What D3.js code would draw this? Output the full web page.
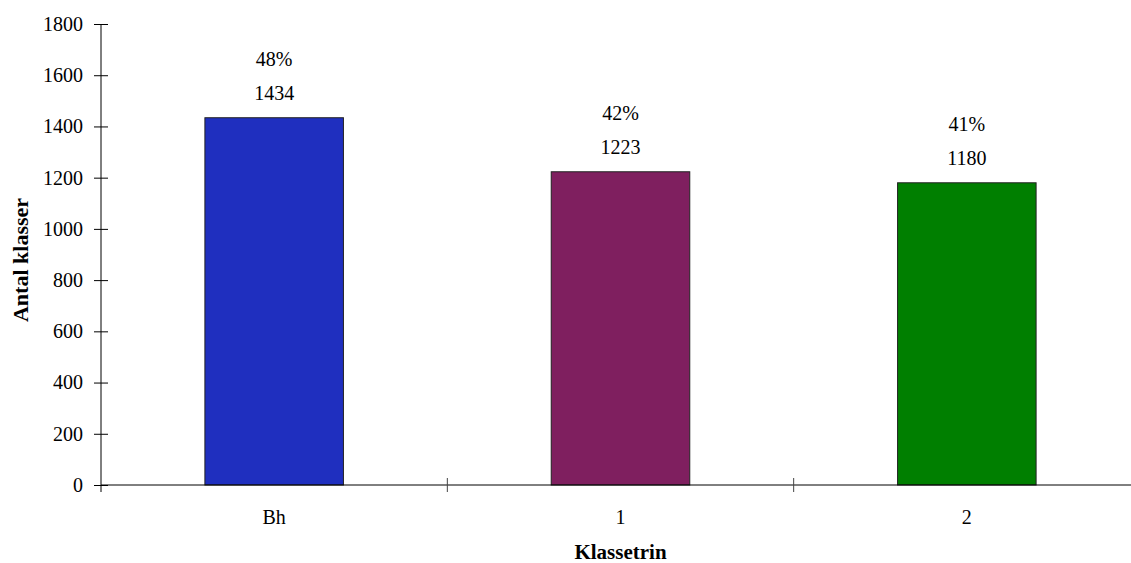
<!DOCTYPE html>
<html>
<head>
<meta charset="utf-8">
<script src="https://cdn.jsdelivr.net/npm/d3@7"></script>
<style>
  html, body { margin: 0; padding: 0; background: #fff; }
  svg { display: block; }
</style>
</head>
<body>
<script>
const categories = ["Bh", "1", "2"];
const values = [1434, 1223, 1180];
const percentLabels = ["48%", "42%", "41%"];
const barColors = ["#1f2fbf", "#7f1f5f", "#007f00"];
const yTicks = [0, 200, 400, 600, 800, 1000, 1200, 1400, 1600, 1800];
const xTitle = "Klassetrin";
const yTitle = "Antal klasser";

const W = 1131, H = 563;
const mLeft = 101, mRight = 1140, mTop = 24, mBottom = 485;
const SERIF = "Liberation Serif";

const svg = d3.select("body").append("svg").attr("width", W).attr("height", H)
  .attr("font-family", SERIF);

const x = d3.scaleBand().domain(categories).range([mLeft, mRight])
  .paddingInner(0.6).paddingOuter(0.3);
const y = d3.scaleLinear().domain([0, 1800]).range([mBottom, mTop]);
const step = x.step();

// bars
svg.append("g").selectAll("rect").data(categories).join("rect")
  .attr("x", d => x(d))
  .attr("y", (d, i) => y(values[i]))
  .attr("width", x.bandwidth())
  .attr("height", (d, i) => y(0) - y(values[i]))
  .attr("fill", (d, i) => barColors[i])
  .attr("stroke", "#222")
  .attr("stroke-width", 1);

// value labels
svg.append("g").attr("font-family", SERIF).selectAll("text").data(categories).join("text")
  .attr("x", d => x(d) + x.bandwidth() / 2)
  .attr("y", (d, i) => y(values[i]) - 18)
  .attr("text-anchor", "middle")
  .attr("font-size", 20)
  .text((d, i) => values[i]);

svg.append("g").attr("font-family", SERIF).selectAll("text").data(categories).join("text")
  .attr("x", d => x(d) + x.bandwidth() / 2)
  .attr("y", (d, i) => y(values[i]) - 52)
  .attr("text-anchor", "middle")
  .attr("font-size", 20)
  .text((d, i) => percentLabels[i]);

// y axis
const yAxis = svg.append("g").attr("transform", `translate(${mLeft},0)`)
  .call(d3.axisLeft(y).tickValues(yTicks).tickFormat(d3.format("d"))
    .tickSize(7).tickPadding(11).tickSizeOuter(0));
yAxis.attr("font-family", SERIF).attr("font-size", 20);
yAxis.select(".domain").remove();
yAxis.selectAll(".tick line").attr("x1", -7).attr("x2", 7).attr("stroke", "#000");
yAxis.selectAll(".tick text").attr("fill", "#000");
svg.append("line").attr("x1", mLeft).attr("x2", mLeft).attr("y1", mTop).attr("y2", mBottom + 7)
  .attr("stroke", "#000");

// x axis
const xAxis = svg.append("g").attr("transform", `translate(0,${mBottom})`)
  .call(d3.axisBottom(x).tickSize(0).tickPadding(25));
xAxis.attr("font-family", SERIF).attr("font-size", 20);
xAxis.select(".domain").remove();
xAxis.selectAll(".tick text").attr("fill", "#000");
svg.append("line").attr("x1", mLeft).attr("x2", W).attr("y1", mBottom).attr("y2", mBottom)
  .attr("stroke", "#000");
const bounds = categories.map(c => x(c) + x.bandwidth() / 2 + step / 2);
svg.append("g").selectAll("line").data(bounds.slice(0, -1)).join("line")
  .attr("x1", d => d).attr("x2", d => d)
  .attr("y1", mBottom - 7).attr("y2", mBottom + 7)
  .attr("stroke", "#444");

// titles
svg.append("text").attr("x", (mLeft + mRight) / 2).attr("y", 559)
  .attr("text-anchor", "middle").attr("font-size", 21).attr("font-weight", "bold")
  .attr("font-family", SERIF)
  .text(xTitle);
svg.append("text").attr("transform", `translate(28,260) rotate(-90)`)
  .attr("text-anchor", "middle").attr("font-size", 22).attr("font-weight", "bold")
  .attr("font-family", SERIF)
  .text(yTitle);
</script>
</body>
</html>
